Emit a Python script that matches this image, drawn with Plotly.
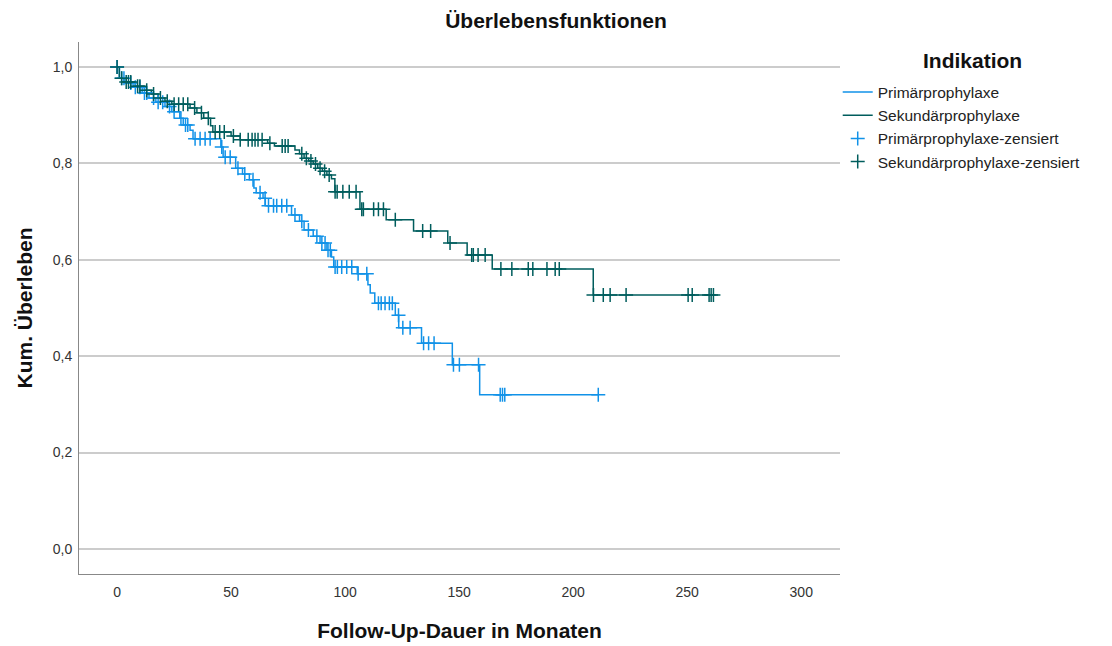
import numpy as np
import plotly.graph_objects as go

# ---- data ----
prim_event_t = [0, 1, 4, 7, 11, 14, 17, 21, 24, 27.5, 29, 32, 33.3, 45.5, 46.5, 52, 55, 58, 60, 61, 64, 65,
                76.5, 80, 82, 86, 89, 92, 94, 95, 105.3, 110, 111, 113, 122, 123.5, 133.5, 147, 159]
prim_event_s = [1.0, 0.977, 0.967, 0.958, 0.946, 0.936, 0.927, 0.918, 0.907, 0.894, 0.88, 0.869, 0.851,
                0.834, 0.813, 0.79, 0.778, 0.766, 0.749, 0.739, 0.728, 0.712, 0.693, 0.68, 0.662, 0.649,
                0.635, 0.62, 0.606, 0.585, 0.571, 0.548, 0.531, 0.51, 0.485, 0.459, 0.427, 0.382, 0.32]
prim_end = 211
prim_censor_t = [0, 2, 3, 6, 8, 10, 12, 13, 16, 18, 20, 23, 25, 28, 30, 31, 34.2, 36.4, 38.6, 40.8, 45.9,
                 47.4, 49.6, 53, 56, 59.6, 62.7, 64.9, 66.4, 68.6, 70, 72.2, 74.4, 78, 81, 83.9, 87.6, 89.8,
                 91.2, 92.5, 93.5, 95.6, 96.6, 98.5, 100.7, 102.9, 105.7, 109.5, 114.6, 115.8, 117.5, 119.4,
                 120.7, 123.4, 125.3, 128.5, 134.4, 136.6, 139, 147.5, 150.1, 158.5, 168, 169, 170, 211]

sek_event_t = [0, 1, 3, 8, 12, 15, 18, 21, 24, 32, 35, 38, 41, 42, 50, 54, 66, 69, 78, 80, 82, 84, 86, 88,
               90, 92, 94, 95.5, 106.5, 118, 130, 145, 153.5, 164.5, 208.8]
sek_event_s = [1.0, 0.977, 0.969, 0.96, 0.952, 0.944, 0.936, 0.929, 0.923, 0.915, 0.905, 0.894, 0.878,
               0.865, 0.857, 0.849, 0.842, 0.836, 0.828, 0.82, 0.811, 0.805, 0.799, 0.79, 0.784, 0.776,
               0.768, 0.741, 0.705, 0.683, 0.66, 0.635, 0.61, 0.581, 0.527]
sek_end = 262
sek_censor_t = [0, 2, 4, 5, 6, 9, 10, 13, 16, 19, 22, 25, 27, 29, 31, 34, 37, 40, 43, 45, 47, 51, 54, 57.5,
                59.2, 60.5, 61.8, 63.6, 67, 72.4, 73.7, 75, 81, 83, 85, 87, 89, 91, 93, 95.6, 96.5, 99,
                101.8, 104.8, 107.3, 108, 112.5, 114.6, 116.8, 122, 134, 137.5, 146, 155.5, 156.2, 158.3,
                161.4, 168.3, 173.1, 180.3, 182.3, 188.5, 192.1, 193.9, 208.9, 213.2, 216.2, 223.2, 250.4,
                252.2, 259.6, 260.5, 261.5]

x_ticks = [0, 50, 100, 150, 200, 250, 300]
y_ticks = [0.0, 0.2, 0.4, 0.6, 0.8, 1.0]
y_tick_labels = ["0,0", "0,2", "0,4", "0,6", "0,8", "1,0"]

BLUE = "#1192E8"
TEAL = "#005D5D"


def step_xy(t, s, end):
    return list(t) + [end], list(s) + [s[-1]]


def censor_y(t_ev, s_ev, tc):
    idx = np.searchsorted(np.array(t_ev), np.array(tc), side="right") - 1
    return list(np.array(s_ev)[idx])


fig = go.Figure()
px_, py_ = step_xy(prim_event_t, prim_event_s, prim_end)
sx_, sy_ = step_xy(sek_event_t, sek_event_s, sek_end)

fig.add_trace(go.Scatter(x=px_, y=py_, mode="lines", line=dict(color=BLUE, width=1.5, shape="hv"),
                         name="Primärprophylaxe"))
fig.add_trace(go.Scatter(x=sx_, y=sy_, mode="lines", line=dict(color=TEAL, width=1.5, shape="hv"),
                         name="Sekundärprophylaxe"))
fig.add_trace(go.Scatter(x=prim_censor_t, y=censor_y(prim_event_t, prim_event_s, prim_censor_t),
                         mode="markers",
                         marker=dict(symbol="cross-thin", size=10, line=dict(color=BLUE, width=1.5)),
                         name="Primärprophylaxe-zensiert"))
fig.add_trace(go.Scatter(x=sek_censor_t, y=censor_y(sek_event_t, sek_event_s, sek_censor_t),
                         mode="markers",
                         marker=dict(symbol="cross-thin", size=10, line=dict(color=TEAL, width=1.5)),
                         name="Sekundärprophylaxe-zensiert"))

FONT = "Liberation Sans, Arial, sans-serif"
fig.update_layout(
    width=1112, height=646,
    margin=dict(l=79, r=272, t=42, b=72, autoexpand=False),
    paper_bgcolor="white", plot_bgcolor="white",
    font=dict(family=FONT, color="#222222"),
    title=dict(text="<b>Überlebensfunktionen</b>", x=0.5, xanchor="center", y=0.968, yanchor="middle",
               font=dict(size=21, color="#111111")),
    showlegend=True,
    legend=dict(x=0.997, xanchor="left", y=0.937, yanchor="top",
                font=dict(size=15.5, color="#222222"), itemwidth=30, tracegroupgap=0,
                bgcolor="rgba(0,0,0,0)"),
    annotations=[dict(text="<b>Indikation</b>", xref="paper", yref="paper", x=1.1735, y=0.966,
                      xanchor="center", yanchor="middle", showarrow=False,
                      font=dict(size=21, color="#111111", family=FONT))],
    xaxis=dict(range=[-16.7, 317], tickvals=x_ticks, ticktext=[str(v) for v in x_ticks],
               showgrid=False, zeroline=False, showline=True, linecolor="#888888", linewidth=1,
               ticks="", ticklabelstandoff=5, tickfont=dict(size=14, color="#333333"),
               title=dict(text="<b>Follow-Up-Dauer in Monaten</b>", font=dict(size=21, color="#111111"),
                          standoff=24)),
    yaxis=dict(range=[-0.052, 1.052], tickvals=y_ticks, ticktext=y_tick_labels,
               showgrid=True, gridcolor="#cccccc", gridwidth=1.5, zeroline=False,
               showline=True, linecolor="#888888", linewidth=1, ticks="", ticklabelstandoff=3,
               tickfont=dict(size=14, color="#333333"),
               title=dict(text="<b>Kum. Überleben</b>", font=dict(size=21, color="#111111"), standoff=14)),
)

fig.write_html("out.html")
